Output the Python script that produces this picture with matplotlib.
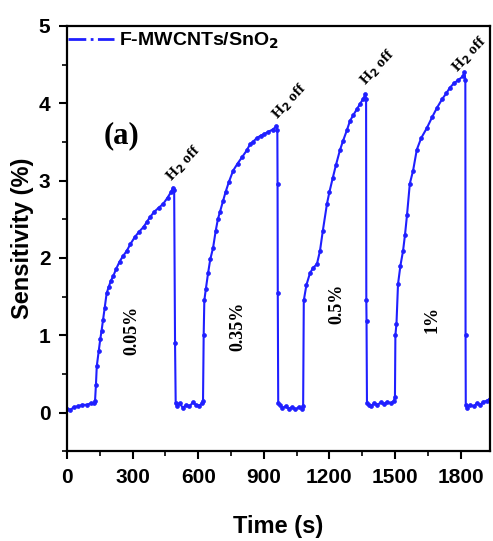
import matplotlib
matplotlib.use("Agg")
import matplotlib.pyplot as plt
from matplotlib.lines import Line2D

# Sensor response: time (s) and sensitivity (%).
time_s = [
  0, 15, 30, 50, 70, 90, 110, 125,
  128, 132, 136, 145, 152, 158, 165, 172, 181, 190, 200, 212, 225, 240, 255, 273,
  290, 310, 330, 350, 364, 380, 400, 420, 440, 460, 475, 485,
  490, 494, 497,
  505, 515, 530, 545, 560, 575, 590, 605, 618,
  622, 625, 628, 635, 645, 655, 668, 680, 690, 700, 714, 725, 740, 760, 780, 800,
  822, 837, 850, 868, 885, 900, 920, 940, 958,
  962, 963, 964, 966,
  975, 985, 1000, 1015, 1030, 1045, 1060, 1075,
  1080, 1083, 1095, 1111, 1125, 1143, 1157, 1170, 1189, 1200, 1216, 1230, 1248,
  1262, 1280, 1294, 1310, 1325, 1340, 1355, 1365,
  1368, 1369, 1370, 1372,
  1380, 1390, 1405, 1420, 1435, 1450, 1465, 1480, 1495,
  1500, 1502, 1507, 1514, 1525, 1537, 1546, 1555, 1568, 1583, 1600, 1620, 1646,
  1670, 1692, 1715, 1735, 1751, 1770, 1790, 1811, 1818,
  1822, 1823, 1824,
  1830, 1845, 1860, 1875, 1890, 1905, 1920, 1935, 1945,
]
sensitivity = [
  0.05, 0.03, 0.07, 0.08, 0.10, 0.10, 0.12, 0.12,
  0.15, 0.35, 0.60, 0.80, 0.95, 1.06, 1.20, 1.35, 1.54, 1.62, 1.70, 1.77, 1.86, 1.95, 2.02, 2.09,
  2.18, 2.27, 2.34, 2.40, 2.46, 2.53, 2.60, 2.65, 2.70, 2.78, 2.85, 2.91,
  2.88, 0.90, 0.12,
  0.08, 0.12, 0.06, 0.10, 0.08, 0.13, 0.10, 0.09, 0.12,
  0.15, 1.00, 1.45, 1.60, 1.80, 1.98, 2.13, 2.35, 2.50, 2.60, 2.74, 2.85, 2.98, 3.13, 3.22, 3.30,
  3.39, 3.47, 3.50, 3.55, 3.58, 3.60, 3.63, 3.66, 3.70,
  3.65, 2.96, 1.54, 0.12,
  0.10, 0.06, 0.08, 0.05, 0.07, 0.04, 0.07, 0.05,
  0.08, 1.45, 1.65, 1.80, 1.87, 1.92, 2.09, 2.35, 2.70, 2.85, 3.04, 3.20, 3.39,
  3.51, 3.65, 3.77, 3.85, 3.92, 3.99, 4.06, 4.12,
  4.05, 1.45, 1.19, 0.12,
  0.10, 0.08, 0.12, 0.10, 0.13, 0.11, 0.14, 0.12, 0.15,
  0.20, 1.00, 1.15, 1.66, 1.90, 2.09, 2.30, 2.55, 2.96, 3.13, 3.40, 3.55, 3.68,
  3.82, 3.94, 4.05, 4.13, 4.20, 4.26, 4.30, 4.35, 4.40,
  4.30, 1.00, 0.10,
  0.06, 0.10, 0.08, 0.12, 0.10, 0.14, 0.15, 0.18, 0.17,
]

# Annotations.
concentrations      = ["0.05%", "0.35%", "0.5%", "1%"]
concentration_x     = [297, 782, 1235, 1669]
concentration_y     = [1.06, 1.12, 1.41, 1.21]
h2_off_x            = [535, 1020, 1422, 1840]
h2_off_y            = [3.22, 4.03, 4.46, 4.63]

sans  = "Liberation Sans"
serif = "Liberation Serif"
blue  = "#1f1fff"

fig = plt.figure(figsize=(4.93, 5.41), dpi=100)
ax  = fig.add_axes([0.136, 0.166, 0.858, 0.786])

ax.plot(time_s, sensitivity, '-', color=blue, lw=1.5,
        marker='o', markersize=2.8, markeredgewidth=0.5, markerfacecolor=blue)

ax.set_xlim(0, 1935)
ax.set_ylim(-0.5, 5)
ax.set_xticks([0, 300, 600, 900, 1200, 1500, 1800])
ax.set_xticks(range(150, 1935, 300), minor=True)
ax.set_yticks([0, 1, 2, 3, 4, 5])
ax.set_yticks([-0.5, 0.5, 1.5, 2.5, 3.5, 4.5], minor=True)
ax.tick_params(which='major', direction='out', length=6, width=1.5, pad=6)
ax.tick_params(which='minor', direction='out', length=3.5, width=1.2)
for lab in ax.get_xticklabels() + ax.get_yticklabels():
  lab.set_fontfamily(sans)
  lab.set_fontweight('bold')
  lab.set_fontsize(15)
for spine in ax.spines.values():
  spine.set_linewidth(1.6)

ax.set_xlabel("Time (s)", fontfamily=sans, fontweight='bold', fontsize=17, labelpad=20)
ax.set_ylabel("Sensitivity (%)", fontfamily=sans, fontweight='bold', fontsize=17, labelpad=3)

# Legend with a dash-dot handle.
handle = Line2D([], [], color=blue, ls='-.', lw=2)
ax.legend([handle], ["F-MWCNTs/SnO$_\\mathbf{2}$"], loc='upper left', frameon=False,
          borderaxespad=0.0, borderpad=0.25, handlelength=2.4, handletextpad=0.25,
          bbox_to_anchor=(-0.01, 1.0),
          prop={'family': sans, 'weight': 'bold', 'size': 14})

# Labels on the plot.
ax.text(247, 3.58, "(a)", fontfamily=serif, fontweight='bold', fontsize=22,
        ha='center', va='center')
for i in range(len(concentrations)):
  ax.text(concentration_x[i], concentration_y[i], concentrations[i], rotation=90,
          fontfamily=serif, fontweight='bold', fontsize=13, ha='center', va='center')
for i in range(len(h2_off_x)):
  ax.text(h2_off_x[i], h2_off_y[i], "H$_\\mathbf{2}$ off", rotation=47,
          fontfamily=serif, fontweight='bold', fontsize=11, ha='center', va='center')

fig.savefig("out.png", dpi=100)
